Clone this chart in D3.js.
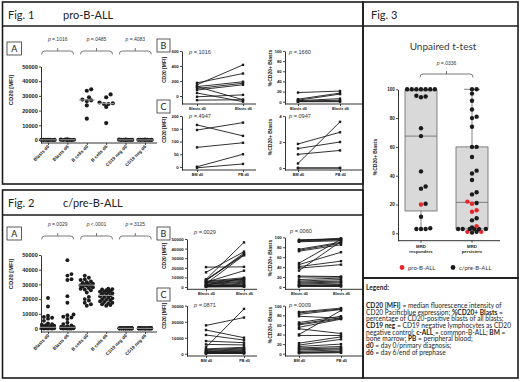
<!DOCTYPE html>
<html>
<head>
<meta charset="utf-8">
<script src="https://cdn.jsdelivr.net/npm/d3@7"></script>
<style>
  body { margin: 0; background: #fff; }
  svg { display: block; }
</style>
</head>
<body>
<div id="chart"></div>
<script>
// ---- data ----
const scatterCats = ["Blasts d0", "Blasts d6", "B cells d0", "B cells d6", "CD19 neg d0", "CD19 neg d6"];
const fig1Values = [
  [150, 175, 125, 100, 80, 40, -10, -55],
  [415, 300, 190, 170, 150, -50, -75, 15],
  [34500, 33500, 29000, 27500, 27000, 26500, 23500, 14500],
  [31000, 29000, 25500, 25000, 24500, 24500, 22500, 11500],
  [300, 200, 150, 100, 80, 50, 20, 0],
  [250, 180, 120, 90, 60, 40, 10, 0]
];
const fig1Medians = [100, 160, 27250, 24750, 90, 50];
const fig1Pvals = ["=.1016", "=.0485", "=.4083"];

const fig2Values = [
  [20700, 15000, 8700, 7800, 7300, 6700, 5200, 3500, 3000, 2600, 2200, 1900, 1600, 1400, 1200, 1000, 900, 800, 700, 600, 500, 400, 300, 250, 200, 150, 100, 50, 0, 0],
  [46500, 37000, 36000, 33500, 33000, 22000, 17500, 9500, 9000, 8000, 7500, 6500, 4000, 3000, 2000, 1500, 1200, 1000, 800, 600, 500, 400, 300, 200, 150, 100, 50, 0, 0, 0],
  [36000, 34500, 33500, 33000, 32000, 31500, 31000, 30500, 30000, 29800, 29500, 29200, 29000, 28500, 28000, 27500, 27000, 26500, 26000, 24500, 21500, 20000, 19000, 17500, 16500, 15500],
  [27000, 26800, 26500, 26000, 25500, 25000, 24800, 24500, 24000, 23500, 23000, 22500, 22000, 21500, 21000, 20500, 20000, 19500, 19000, 18500, 18000, 17500, 17000, 16500, 16000, 15500],
  [400, 350, 300, 280, 250, 220, 200, 180, 160, 150, 140, 120, 100, 90, 80, 70, 60, 50, 40, 30, 20, 10, 0, 0, 0, 0],
  [380, 340, 300, 270, 240, 210, 190, 170, 150, 140, 130, 110, 100, 90, 80, 70, 60, 50, 40, 30, 20, 10, 0, 0, 0, 0]
];
const fig2Medians = [800, 800, 29500, 22500, 100, 100];
const fig2Pvals = ["=.0029", "<.0001", "=.3125"];

const pairBlastCats = ["Blasts d0", "Blasts d6"];
const pairSiteCats = ["BM d0", "PB d0"];

const fig1MfiD0 = [150, 175, 125, 100, 80, 125, 40, -10, -55];
const fig1MfiD6 = [415, 300, 190, 170, 150, -50, -75, 15, -50];
const fig1PctD0 = [18, 5, 3, 2, 1, 0.5, 0];
const fig1PctD6 = [21, 17, 15, 6, 3, 1, 0];
const fig1SiteMfiBM = [165, 145, 77, 1, -3];
const fig1SiteMfiPB = [122, 174, 95, 50, 12];
const fig1SitePctBM = [1.85, 1.5, 1.05, 0.35, 0, 0];
const fig1SitePctPB = [2.75, 2.0, 1.35, 3.55, 0, 0];

const fig2MfiD0 = [20700, 15300, 8000, 7500, 7000, 6500, 6000, 5500, 5000, 4500, 4000, 3500, 3000, 2500, 2000, 1500, 1200, 1000, 800, 500, 300, 100];
const fig2MfiD6 = [21000, 36800, 46500, 34000, 33500, 35500, 9700, 8500, 17000, 8000, 7000, 33000, 6000, 5000, 9000, 4000, 3000, 2000, 1500, 1000, 500, 200];
const fig2PctD0 = [95, 94, 93, 92, 91, 76, 74, 72, 48, 45, 41, 38, 33, 22, 20, 15, 12, 10, 8, 6, 4, 3, 2, 1];
const fig2PctD6 = [97, 96, 98, 95, 93, 90, 88, 85, 96, 70, 52, 45, 92, 21, 20, 18, 15, 12, 10, 8, 5, 3, 2, 1];
const fig2SiteMfiBM = [17700, 14800, 11700, 7900, 5800, 4000, 3000, 2500, 2000, 1500, 1200, 1000, 800, 500, 300, 200, 100];
const fig2SiteMfiPB = [22600, 10000, 8500, 6900, 5500, 28000, 4000, 3500, 3000, 2500, 2000, 1500, 1000, 800, 500, 300, 200];
const fig2SitePctBM = [87, 85, 82, 78, 65, 62, 60, 55, 52, 40, 38, 22, 18, 15, 12, 10, 8, 5, 3, 2, 1];
const fig2SitePctPB = [95, 93, 92, 74, 78, 75, 73, 72, 42, 90, 38, 35, 30, 20, 15, 12, 10, 8, 5, 3, 2];

const pairP = { f1b: "=.1016", f1bp: "=.1660", f1c: "=.4947", f1cp: "=.0947",
                f2b: "=.0029", f2bp: "=.0060", f2c: "=.0871", f2cp: "=.0009" };

const boxCats = ["MRD responders", "MRD persisters"];
const boxMin = [2.5, 0.5];
const boxQ1 = [15.5, 3];
const boxMedian = [67.5, 21.5];
const boxQ3 = [99, 60];
const boxMax = [100, 100];
const respBlack = [100, 100, 100, 100, 100, 100, 100, 95.5, 95, 94.5, 73, 67.5, 43, 32.5, 31, 20.5, 11.5, 3.5, 3, 3, 3];
const respRed = [20];
const persBlack = [100, 100, 97, 92, 86, 81, 80, 74, 60, 60, 53, 43.5, 41.5, 37, 28.5, 27, 21, 10.5, 9, 4, 3, 3, 3, 3, 3, 3, 1, 0.5];
const persRed = [22, 20.5, 16, 15, 5, 1, 1];
const fig3P = "=.0336";

const legendLines = [
  [["CD20 [MFI]", 1], [" = median fluorescence intensity of", 0]],
  [["CD20 Pacificblue expression; ", 0], ["%CD20+ Blasts", 1], [" =", 0]],
  [["percentage of CD20-positive blasts of all blasts;", 0]],
  [["CD19 neg", 1], [" = CD19 negative lymphocytes as CD20", 0]],
  [["negative control; ", 0], ["c-ALL", 1], [" = common-B-ALL; ", 0], ["BM", 1], [" =", 0]],
  [["bone marrow; ", 0], ["PB", 1], [" = peripheral blood;", 0]],
  [["d0", 1], [" = day 0/primary diagnosis;", 0]],
  [["d6", 1], [" = day 6/end of prephase", 0]]
];

// ---- drawing ----
const ink = "#1b1b1b";
const red = "#e8262a";
const FONT = "'Liberation Sans', Arial, sans-serif";
const SOFT = "Lato, 'Open Sans', sans-serif";

const svg = d3.select("#chart").append("svg").attr("width", 520).attr("height", 382);

// frames
function frame(x, y, w, h, headY) {
  svg.append("rect").attr("x", x).attr("y", y).attr("width", w).attr("height", h)
    .attr("fill", "none").attr("stroke", ink).attr("stroke-width", 1.6);
  if (headY) svg.append("line").attr("x1", x).attr("x2", x + w).attr("y1", headY).attr("y2", headY)
    .attr("stroke", ink).attr("stroke-width", 1.6);
}
frame(2.5, 2, 360.5, 182, 26);
frame(2.5, 190, 360.5, 188, 215);
frame(363, 2, 155, 276, 26);
frame(363, 278, 155, 100);

function txt(x, y, s, size, opts = {}) {
  return svg.append("text").attr("x", x).attr("y", y).text(s)
    .attr("font-size", size).attr("font-family", opts.family || SOFT)
    .attr("font-weight", opts.weight || "normal").attr("fill", opts.fill || "#222")
    .attr("text-anchor", opts.anchor || "start");
}
txt(8, 18.5, "Fig. 1", 11);
txt(63, 18.5, "pro-B-ALL", 11);
txt(8, 206.5, "Fig. 2", 11);
txt(63, 206.5, "c/pre-B-ALL", 11);
txt(371, 18.5, "Fig. 3", 11);

function letterBox(x, y, w, h, s) {
  svg.append("rect").attr("x", x).attr("y", y).attr("width", w).attr("height", h)
    .attr("fill", "#fff").attr("stroke", "#333").attr("stroke-width", 0.8);
  txt(x + w / 2, y + h / 2 + 3.3, s, 9, { anchor: "middle" });
}
letterBox(7, 42, 14.5, 13, "A");
letterBox(157, 39, 13, 13, "B");
letterBox(157, 100, 13, 13, "C");
letterBox(7, 227, 14.5, 13, "A");
letterBox(157, 227, 13, 13, "B");
letterBox(157, 288, 13, 13, "C");

function mkScale(v0, p0, v1, p1, axisY) {
  const s = d3.scaleLinear().domain([v0, v1]).range([p0, p1]);
  return d3.scaleLinear().domain([s.invert(axisY), v1]).range([axisY, p1]);
}

function yAxis(g, y, x, ticks, size) {
  const ax = g.append("g").attr("transform", `translate(${x},0)`)
    .call(d3.axisLeft(y).tickValues(ticks).tickSize(2).tickSizeOuter(0).tickPadding(1.2)
      .tickFormat(d3.format("d")));
  ax.select(".domain").attr("stroke", ink).attr("stroke-width", 0.9);
  ax.selectAll(".tick line").attr("stroke", ink).attr("stroke-width", 0.8);
  ax.selectAll(".tick text").attr("font-size", size).attr("font-weight", "bold")
    .attr("fill", "#222").attr("font-family", FONT);
}

function xAxis(g, x, y0, x0, x1, size, rotate) {
  g.append("line").attr("x1", x0).attr("x2", x1).attr("y1", y0).attr("y2", y0)
    .attr("stroke", ink).attr("stroke-width", 0.9);
  const ax = g.append("g").attr("transform", `translate(0,${y0})`)
    .call(d3.axisBottom(x).tickSize(2).tickSizeOuter(0).tickPadding(1.5));
  ax.select(".domain").remove();
  ax.selectAll(".tick line").attr("stroke", ink).attr("stroke-width", 0.8);
  const t = ax.selectAll(".tick text").attr("font-size", size).attr("font-weight", "bold")
    .attr("fill", "#222").attr("font-family", FONT);
  if (rotate) t.attr("text-anchor", "end").attr("x", -2).attr("y", 2).attr("dy", "0.35em")
    .attr("transform", "rotate(-45)");
}

function yLabel(g, x, y, s, size) {
  g.append("text").attr("transform", `translate(${x},${y}) rotate(-90)`)
    .attr("text-anchor", "middle").attr("font-size", size).attr("font-weight", "bold")
    .attr("font-family", FONT).attr("fill", "#222").text(s);
}

function pText(g, x, y, s, size, anchor) {
  const t = g.append("text").attr("x", x).attr("y", y).attr("font-size", size)
    .attr("font-family", FONT).attr("fill", "#333").attr("text-anchor", anchor || "start");
  t.append("tspan").attr("font-style", "italic").text("p");
  t.append("tspan").text(" " + s);
}

function bracket(g, xa, xb, y) {
  const xm = (xa + xb) / 2;
  g.append("path")
    .attr("d", `M${xa},${y + 3.4}Q${xa},${y} ${xa + 3},${y}H${xb - 3}Q${xb},${y} ${xb},${y + 3.4}M${xm},${y}V${y - 3}`)
    .attr("fill", "none").attr("stroke", "#555").attr("stroke-width", 0.8);
}

// simple beeswarm: dots spread sideways where they collide
function swarm(items, y, cx, r, maxHalf) {
  const pts = items.map(d => ({ ...d, y: y(d.v) })).sort((a, b) => b.y - a.y);
  const placed = [];
  const step = r * 1.05;
  const nSteps = Math.floor(maxHalf / step);
  pts.forEach(p => {
    let best = cx, bestD = -1;
    for (let k = 0; k <= 2 * nSteps; k++) {
      const off = (k % 2 ? 1 : -1) * Math.ceil(k / 2) * step;
      const xx = cx + off;
      let dmin = Infinity;
      placed.forEach(q => { dmin = Math.min(dmin, Math.hypot(q.x - xx, q.y - p.y)); });
      if (dmin >= r * 1.75) { best = xx; bestD = Infinity; break; }
      if (dmin > bestD) { bestD = dmin; best = xx; }
    }
    p.x = best;
    placed.push(p);
  });
  return placed;
}

function scatterPanel(o) {
  const g = svg.append("g");
  const x = d3.scalePoint().domain(scatterCats).range([48, 145]);
  yAxis(g, o.y, 41, [0, 10000, 20000, 30000, 40000, 50000], 5.6);
  xAxis(g, x, o.y.range()[0], 41, 157, 4.6, true);
  yLabel(g, 13, o.labelY, "CD20 [MFI]", 5.8);
  o.values.forEach((vals, i) => {
    const pts = swarm(vals.map(v => ({ v })), o.y, x(scatterCats[i]), o.r, 7);
    g.selectAll(null).data(pts).join("circle")
      .attr("cx", d => d.x).attr("cy", d => d.y).attr("r", o.r).attr("fill", ink);
  });
  o.medians.forEach((m, i) => {
    g.append("line").attr("x1", x(scatterCats[i]) - 8).attr("x2", x(scatterCats[i]) + 8)
      .attr("y1", o.y(m)).attr("y2", o.y(m)).attr("stroke", "#9a9a9a").attr("stroke-width", 1);
  });
  o.pvals.forEach((p, i) => {
    const xm = (x(scatterCats[2 * i]) + x(scatterCats[2 * i + 1])) / 2;
    bracket(g, xm - 16, xm + 16, o.bracketY);
    pText(g, xm, o.bracketY - 10.5, p, 5, "middle");
  });
}

scatterPanel({ y: mkScale(0, 140, 50000, 66.5, 143), values: fig1Values, medians: fig1Medians,
  pvals: fig1Pvals, bracketY: 51, labelY: 90, r: 2.1 });
scatterPanel({ y: mkScale(0, 328.5, 50000, 255, 332), values: fig2Values, medians: fig2Medians,
  pvals: fig2Pvals, bracketY: 236, labelY: 274, r: 1.95 });

function pairedPanel(o) {
  const g = svg.append("g");
  const x = d3.scalePoint().domain(o.cats).range(o.cx);
  const axisY = o.y.range()[0];
  yAxis(g, o.y, o.axisX, o.ticks, 4.4);
  xAxis(g, x, axisY, o.axisX, o.axisEnd, 3.8, false);
  yLabel(g, o.labelX, o.labelY, o.label, 5);
  const pairs = o.d0.map((v, i) => [v, o.d6[i]]);
  g.selectAll(null).data(pairs).join("line")
    .attr("x1", x(o.cats[0])).attr("x2", x(o.cats[1]))
    .attr("y1", d => o.y(d[0])).attr("y2", d => o.y(d[1]))
    .attr("stroke", ink).attr("stroke-width", 0.9);
  [0, 1].forEach(k => {
    g.selectAll(null).data(pairs).join("rect")
      .attr("x", x(o.cats[k]) - 1.2).attr("y", d => o.y(d[k]) - 1.2)
      .attr("width", 2.4).attr("height", 2.4).attr("fill", ink);
  });
  pText(g, o.pX, o.pY, o.p, 5.6);
}

// Fig 1 B / C
pairedPanel({ cats: pairBlastCats, cx: [197, 243], axisX: 182, axisEnd: 256,
  y: mkScale(0, 96, 600, 51, 104), ticks: [0, 200, 400, 600], d0: fig1MfiD0, d6: fig1MfiD6,
  label: "CD20 [MFI]", labelX: 166, labelY: 70, p: pairP.f1b, pX: 189, pY: 53.5 });
pairedPanel({ cats: pairBlastCats, cx: [298, 340], axisX: 285, axisEnd: 362,
  y: mkScale(0, 101.7, 100, 51, 104), ticks: [0, 20, 40, 60, 80, 100], d0: fig1PctD0, d6: fig1PctD6,
  label: "%CD20+ Blasts", labelX: 272, labelY: 68, p: pairP.f1bp, pX: 289, pY: 53.5 });
pairedPanel({ cats: pairSiteCats, cx: [197, 243], axisX: 182, axisEnd: 256,
  y: mkScale(0, 167, 200, 116, 170), ticks: [0, 50, 100, 150, 200], d0: fig1SiteMfiBM, d6: fig1SiteMfiPB,
  label: "CD20 [MFI]", labelX: 166, labelY: 130, p: pairP.f1c, pX: 189, pY: 118 });
pairedPanel({ cats: pairSiteCats, cx: [298, 340], axisX: 285, axisEnd: 362,
  y: mkScale(0, 168, 4, 116, 170), ticks: [0, 2, 4], d0: fig1SitePctBM, d6: fig1SitePctPB,
  label: "%CD20+ Blasts", labelX: 272, labelY: 137, p: pairP.f1cp, pX: 289, pY: 118 });

// Fig 2 B / C
pairedPanel({ cats: pairBlastCats, cx: [206, 244], axisX: 187, axisEnd: 257,
  y: mkScale(0, 287, 50000, 239, 289.3), ticks: [0, 10000, 20000, 30000, 40000, 50000],
  d0: fig2MfiD0, d6: fig2MfiD6, label: "CD20 [MFI]", labelX: 166, labelY: 256,
  p: pairP.f2b, pX: 194, pY: 234 });
pairedPanel({ cats: pairBlastCats, cx: [299, 341], axisX: 285, axisEnd: 362,
  y: mkScale(0, 287, 100, 237.3, 289.3), ticks: [0, 20, 40, 60, 80, 100],
  d0: fig2PctD0, d6: fig2PctD6, label: "%CD20+ Blasts", labelX: 272, labelY: 258,
  p: pairP.f2bp, pX: 290, pY: 233 });
pairedPanel({ cats: pairSiteCats, cx: [206, 244], axisX: 187, axisEnd: 257,
  y: mkScale(0, 353.7, 30000, 305.7, 356), ticks: [0, 10000, 20000, 30000],
  d0: fig2SiteMfiBM, d6: fig2SiteMfiPB, label: "CD20 [MFI]", labelX: 166, labelY: 316,
  p: pairP.f2c, pX: 194, pY: 307 });
pairedPanel({ cats: pairSiteCats, cx: [299, 341], axisX: 285, axisEnd: 362,
  y: mkScale(0, 353.7, 100, 305.7, 356), ticks: [0, 20, 40, 60, 80, 100],
  d0: fig2SitePctBM, d6: fig2SitePctPB, label: "%CD20+ Blasts", labelX: 272, labelY: 325,
  p: pairP.f2cp, pX: 289, pY: 307 });

// ---- Fig 3 box plot ----
{
  const g = svg.append("g");
  const y = mkScale(0, 233.3, 100, 89.3, 240.7);
  const x = d3.scalePoint().domain(boxCats).range([421, 472]);
  const bw = 32;
  txt(443, 50, "Unpaired t-test", 10, { anchor: "middle", fill: "#3a3a3a" });
  bracket(g, 420, 473, 74);
  pText(g, 446.5, 64.5, fig3P, 5, "middle");
  yAxis(g, y, 398, [0, 20, 40, 60, 80, 100], 4.6);
  g.append("line").attr("x1", 398).attr("x2", 500).attr("y1", 240.7).attr("y2", 240.7)
    .attr("stroke", ink).attr("stroke-width", 0.9);
  yLabel(g, 377, 157, "%CD20+ Blasts", 5);
  boxCats.forEach((c, i) => {
    const cx = x(c);
    g.append("line").attr("x1", cx).attr("x2", cx).attr("y1", y(boxMin[i])).attr("y2", y(boxMax[i]))
      .attr("stroke", "#666").attr("stroke-width", 0.8);
    g.append("line").attr("x1", cx - 8).attr("x2", cx + 8).attr("y1", y(boxMax[i])).attr("y2", y(boxMax[i]))
      .attr("stroke", "#666").attr("stroke-width", 0.8);
    g.append("rect").attr("x", cx - bw / 2).attr("y", y(boxQ3[i]))
      .attr("width", bw).attr("height", y(boxQ1[i]) - y(boxQ3[i]))
      .attr("fill", "#d9d9d9").attr("stroke", "#666").attr("stroke-width", 0.8);
    g.append("line").attr("x1", cx - bw / 2).attr("x2", cx + bw / 2)
      .attr("y1", y(boxMedian[i])).attr("y2", y(boxMedian[i])).attr("stroke", "#666").attr("stroke-width", 0.8);
    g.append("line").attr("x1", cx).attr("x2", cx).attr("y1", 240.7).attr("y2", 242.7)
      .attr("stroke", ink).attr("stroke-width", 0.8);
    const words = c.split(" ");
    words.forEach((w, k) => {
      g.append("text").attr("x", cx).attr("y", 247.5 + k * 5.2).attr("text-anchor", "middle")
        .attr("font-size", 4.3).attr("font-weight", "bold").attr("font-family", FONT)
        .attr("fill", "#222").text(w);
    });
  });
  const groups = [
    respBlack.map(v => ({ v, c: ink })).concat(respRed.map(v => ({ v, c: red }))),
    persBlack.map(v => ({ v, c: ink })).concat(persRed.map(v => ({ v, c: red })))
  ];
  groups.forEach((items, i) => {
    const pts = swarm(items, y, x(boxCats[i]), 2.2, 14);
    g.selectAll(null).data(pts).join("circle")
      .attr("cx", d => d.x).attr("cy", d => d.y).attr("r", 2.2).attr("fill", d => d.c);
  });
  // legend row
  g.append("circle").attr("cx", 402).attr("cy", 267.5).attr("r", 2.4).attr("fill", red);
  txt(408, 269.6, "pro-B-ALL", 6, { fill: "#333" });
  g.append("circle").attr("cx", 453).attr("cy", 267.5).attr("r", 2.4).attr("fill", ink);
  txt(459, 269.6, "c/pre-B-ALL", 6, { fill: "#333" });
}

// ---- legend box ----
txt(366, 289.5, "Legend:", 6.6, { weight: "bold" });
legendLines.forEach((parts, i) => {
  const t = svg.append("text").attr("x", 366).attr("y", 308 + i * 6.67)
    .attr("font-size", 6.6).attr("font-family", SOFT).attr("fill", "#222");
  parts.forEach(([s, b]) => t.append("tspan").attr("font-weight", b ? "bold" : "normal")
    .attr("xml:space", "preserve").text(s));
});
</script>
</body>
</html>
